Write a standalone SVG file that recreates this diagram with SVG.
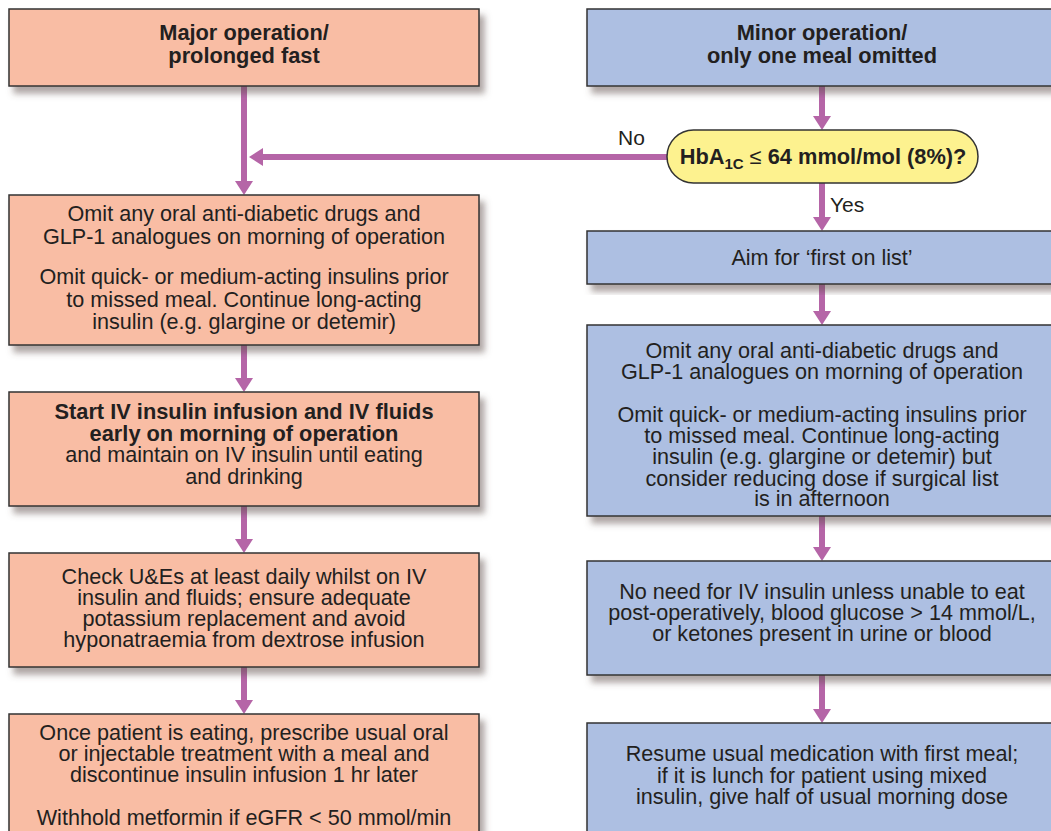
<svg xmlns="http://www.w3.org/2000/svg" width="1051" height="831" viewBox="0 0 1051 831">
<defs>
<style>
.box{stroke:#333;stroke-width:1.5}
.pk{fill:#F9BDA4}
.bl{fill:#ADBFE2}
.t{font-family:"Liberation Sans",Arial,sans-serif;font-size:21.6px;fill:#231F20;text-anchor:middle}
.b{font-weight:bold;font-size:21.8px}
.lbl{font-family:"Liberation Sans",Arial,sans-serif;font-size:21px;fill:#231F20}
.ln{stroke:#B565A7;stroke-width:6;fill:none}
.ah{fill:#B565A7}
</style>
<filter id="sh" x="-5%" y="-10%" width="115%" height="130%">
<feDropShadow dx="5" dy="7" stdDeviation="3" flood-color="#5f504b" flood-opacity="0.5"/>
</filter>
</defs>
<rect width="1051" height="831" fill="#fff"/>

<g id="connectors">
<path class="ln" d="M244 86V182"/><polygon class="ah" points="235,181 253,181 244,195"/>
<path class="ln" d="M667 157H262"/><polygon class="ah" points="263,148 263,166 249,157"/>
<path class="ln" d="M244 345V379"/><polygon class="ah" points="235,378 253,378 244,392"/>
<path class="ln" d="M244 506V540"/><polygon class="ah" points="235,539 253,539 244,553"/>
<path class="ln" d="M244 667V701"/><polygon class="ah" points="235,700 253,700 244,714"/>
<path class="ln" d="M822 86V117"/><polygon class="ah" points="813,116 831,116 822,130"/>
<path class="ln" d="M822 183V218"/><polygon class="ah" points="813,217 831,217 822,231"/>
<path class="ln" d="M822 284V312"/><polygon class="ah" points="813,311 831,311 822,325"/>
<path class="ln" d="M822 516V548"/><polygon class="ah" points="813,547 831,547 822,561"/>
<path class="ln" d="M822 675V710"/><polygon class="ah" points="813,709 831,709 822,723"/>
<text class="lbl" x="618" y="145">No</text>
<text class="lbl" x="830" y="212">Yes</text>
</g>

<g id="major">
<rect class="box pk" x="9" y="9" width="470" height="77" filter="url(#sh)"/>
<text class="t b" x="244" y="40">Major operation/</text>
<text class="t b" x="244" y="63">prolonged fast</text>
</g>

<g id="minor">
<rect class="box bl" x="587" y="9" width="470" height="77" filter="url(#sh)"/>
<text class="t b" x="822" y="40">Minor operation/</text>
<text class="t b" x="822" y="63">only one meal omitted</text>
</g>

<g id="hba1c">
<rect x="667" y="130" width="311" height="53" rx="26.5" fill="#FDF28F" stroke="#333" stroke-width="1.5"/>
<text class="t b" x="823" y="164" font-size="21px"><tspan>HbA</tspan><tspan font-size="15" dy="5">1C</tspan><tspan dy="-5" font-weight="normal"> ≤ </tspan><tspan>64 mmol/mol (8%)?</tspan></text>
</g>

<g id="omit-major">
<rect class="box pk" x="9" y="195" width="470" height="150" filter="url(#sh)"/>
<text class="t" x="244" y="221">Omit any oral anti-diabetic drugs and</text>
<text class="t" x="244" y="244">GLP-1 analogues on morning of operation</text>
<text class="t" x="244" y="284">Omit quick- or medium-acting insulins prior</text>
<text class="t" x="244" y="307">to missed meal. Continue long-acting</text>
<text class="t" x="244" y="329">insulin (e.g. glargine or detemir)</text>
</g>

<g id="iv-start">
<rect class="box pk" x="9" y="392" width="470" height="114" filter="url(#sh)"/>
<text class="t b" x="244" y="419">Start IV insulin infusion and IV fluids</text>
<text class="t b" x="244" y="441">early on morning of operation</text>
<text class="t" x="244" y="462">and maintain on IV insulin until eating</text>
<text class="t" x="244" y="484">and drinking</text>
</g>

<g id="check-ue">
<rect class="box pk" x="9" y="553" width="470" height="114" filter="url(#sh)"/>
<text class="t" x="244" y="584">Check U&amp;Es at least daily whilst on IV</text>
<text class="t" x="244" y="605">insulin and fluids; ensure adequate</text>
<text class="t" x="244" y="626">potassium replacement and avoid</text>
<text class="t" x="244" y="647">hyponatraemia from dextrose infusion</text>
</g>

<g id="once-eating">
<rect class="box pk" x="9" y="714" width="470" height="140" filter="url(#sh)"/>
<text class="t" x="244" y="740">Once patient is eating, prescribe usual oral</text>
<text class="t" x="244" y="761">or injectable treatment with a meal and</text>
<text class="t" x="244" y="782">discontinue insulin infusion 1 hr later</text>
<text class="t" x="244" y="825">Withhold metformin if eGFR &lt; 50 mmol/min</text>
</g>

<g id="first-on-list">
<rect class="box bl" x="587" y="231" width="470" height="53" filter="url(#sh)"/>
<text class="t" x="822" y="265">Aim for ‘first on list’</text>
</g>

<g id="omit-minor">
<rect class="box bl" x="587" y="325" width="470" height="191" filter="url(#sh)"/>
<text class="t" x="822" y="358">Omit any oral anti-diabetic drugs and</text>
<text class="t" x="822" y="379">GLP-1 analogues on morning of operation</text>
<text class="t" x="822" y="422">Omit quick-  or medium-acting insulins prior</text>
<text class="t" x="822" y="443">to missed meal. Continue long-acting</text>
<text class="t" x="822" y="464">insulin (e.g. glargine or detemir) but</text>
<text class="t" x="822" y="486">consider reducing dose if surgical list</text>
<text class="t" x="822" y="506">is in afternoon</text>
</g>

<g id="no-iv">
<rect class="box bl" x="587" y="561" width="470" height="114" filter="url(#sh)"/>
<text class="t" x="822" y="599">No need for IV insulin unless unable to eat</text>
<text class="t" x="822" y="620">post-operatively, blood glucose &gt; 14 mmol/L,</text>
<text class="t" x="822" y="641">or ketones present in urine or blood</text>
</g>

<g id="resume">
<rect class="box bl" x="587" y="723" width="470" height="130" filter="url(#sh)"/>
<text class="t" x="822" y="761">Resume usual medication with first meal;</text>
<text class="t" x="822" y="783">if it is lunch for patient using mixed</text>
<text class="t" x="822" y="804">insulin, give half of usual morning dose</text>
</g>
</svg>
